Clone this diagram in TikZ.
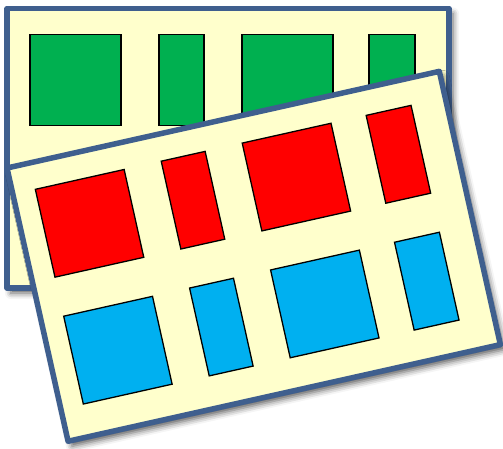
\documentclass[tikz,border=0pt]{standalone}
\usetikzlibrary{shadows.blur}
\definecolor{sheetblue}{HTML}{3F5F8E}
\definecolor{sheetfill}{HTML}{FFFFCC}
\definecolor{cellgreen}{HTML}{00B050}
\definecolor{cellred}{HTML}{FF0000}
\definecolor{cellblue}{HTML}{00B0F0}
\tikzset{
  sheetshadow/.style={
    fill=sheetfill,
    blur shadow={shadow xshift=4pt, shadow yshift=-5pt, shadow blur radius=6pt, shadow opacity=65}
  },
  sheet/.style={draw=sheetblue, line width=5.5pt, line join=round},
  cell/.style={draw=black, line width=1.3pt},
}
\begin{document}
\begin{tikzpicture}[x=1pt, y=-1pt]
  \useasboundingbox (0,0) rectangle (503,448);
  % back sheet, one row of green cells
  \begin{scope}[shift={(7,8.5)}]
    \path[sheetshadow] (0,0) rectangle (442,279.5);
    \draw[sheet] (0,0) rectangle (442,279.5);
    \foreach \cx/\cw in {23/91, 152/45, 235/91, 362/46}
      \draw[cell, fill=cellgreen] (\cx,26) rectangle ++(\cw,91);
  \end{scope}
  % front sheet, tilted: red row over blue row
  \begin{scope}[shift={(7,168)}, rotate=12.6]
    \path[sheetshadow] (0,0) rectangle (443,280);
    \draw[sheet] (0,0) rectangle (443,280);
    \foreach \cx/\cw in {23/91, 152/45, 235/91, 362/46} {
      \draw[cell, fill=cellred] (\cx,27) rectangle ++(\cw,90);
      \draw[cell, fill=cellblue] (\cx,157) rectangle ++(\cw,90);
    }
  \end{scope}
\end{tikzpicture}
\end{document}
